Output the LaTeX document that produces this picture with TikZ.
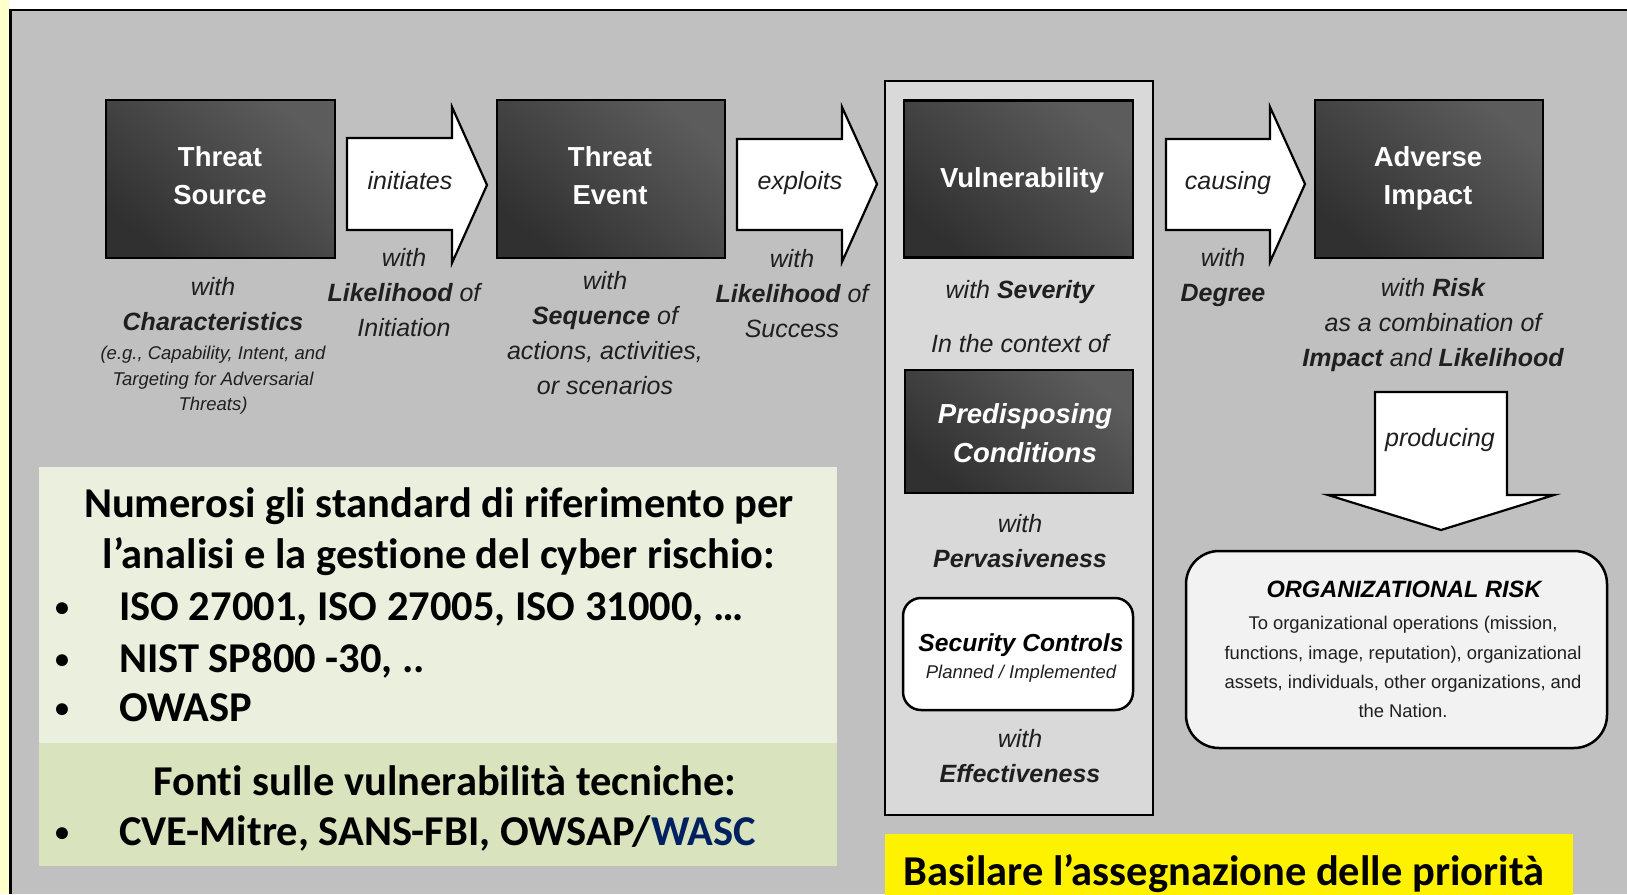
\documentclass[tikz,border=0pt]{standalone}
\usepackage{fontspec}
\setmainfont{Liberation Sans}
\newfontfamily\calfont[Ligatures=NoCommon]{Carlito}
\definecolor{bg}{RGB}{192,192,192}
\definecolor{panelgray}{RGB}{217,217,217}
\definecolor{darkA}{RGB}{92,92,92}
\definecolor{darkB}{RGB}{48,48,48}
\definecolor{greenA}{RGB}{235,240,222}
\definecolor{greenB}{RGB}{217,227,190}
\definecolor{navy}{RGB}{0,32,96}
\definecolor{orgfill}{RGB}{242,242,242}
\definecolor{paleyellow}{RGB}{255,255,204}
\newcommand{\gbullet}{\makebox[64pt][l]{\raisebox{4pt}{\fontsize{28}{28}\selectfont•}}}
\begin{document}
\begin{tikzpicture}[x=1pt,y=-1pt,
  darkbox/.style={draw=black, line width=2.5pt, top color=darkA, bottom color=darkB, shading angle=-40, inner sep=0pt, minimum width=229pt, minimum height=158pt},
  darktext/.style={text=white, font=\bfseries\fontsize{27.5}{38}\selectfont, align=center, inner sep=0pt},
  blockarrow/.style={draw=black, fill=white, line width=2.2pt, line join=miter},
  lbl/.style={font=\itshape\fontsize{25}{35}\selectfont, align=center, text=black!88, inner sep=0pt},
  small/.style={font=\itshape\fontsize{18.5}{25.5}\selectfont, align=center, text=black!88, inner sep=0pt},
  gtext/.style={font=\calfont\bfseries\fontsize{42.5}{51}\selectfont, inner sep=0pt},
  plain/.style={inner sep=0pt, outer sep=0pt},
]
\useasboundingbox (0,0) rectangle (1627,894);
% page background and frame
\fill[white] (0,0) rectangle (1627,894);
\fill[paleyellow] (0,0) rectangle (9,894);
\fill[bg] (10,10) rectangle (1627,894);
\draw[line width=2.8pt] (10.5,894) -- (10.5,10) -- (1627,10);

% vulnerability panel
\node[plain, draw=black, line width=2.5pt, fill=panelgray, minimum width=268pt, minimum height=734pt] (panel) at (1019,448) {};

% dark boxes
\node[darkbox] (ts) at (220.5,179) {};
\node[darkbox, minimum width=228pt] (te) at (611,179) {};
\node[darkbox, minimum height=157pt] (vul) at (1018.5,179) {};
\node[darkbox, minimum width=228pt] (ai) at (1429,179) {};
\node[darkbox, minimum width=228pt, minimum height=123pt] (pc) at (1019,431.5) {};

\node[darktext] (tst) at (220,178) {\strut Threat\\\strut Source};
\node[darktext] (tet) at (610,178) {\strut Threat\\\strut Event};
\node[darktext] (vult) at (1022,180) {\strut Vulnerability};
\node[darktext] (ait) at (1428,178) {\strut Adverse\\\strut Impact};
\node[darktext, font=\bfseries\itshape\fontsize{27.5}{39}\selectfont] (pct) at (1025,435) {\strut Predisposing\\\strut Conditions};

% block arrows
\draw[blockarrow] (347,138) -- (452,138) -- (452,107) -- (487,185) -- (452,263) -- (452,230) -- (347,230) -- cycle;
\draw[blockarrow] (737,139) -- (842,139) -- (842,107) -- (877,184) -- (842,262) -- (842,230) -- (737,230) -- cycle;
\draw[blockarrow] (1166,139) -- (1270,139) -- (1270,107) -- (1305,184) -- (1270,262) -- (1270,230) -- (1166,230) -- cycle;
\draw[blockarrow] (1375,392) -- (1507,392) -- (1507,495) -- (1554,495) -- (1441,530) -- (1328,495) -- (1375,495) -- cycle;

\node[lbl] (init) at (410,182) {\strut initiates};
\node[lbl] (expl) at (800,182) {\strut exploits};
\node[lbl] (caus) at (1228,182) {\strut causing};
\node[lbl] (prod) at (1440,439) {\strut producing};

% labels
\node[lbl] (tswith) at (213,306) {\strut with\\\strut\textbf{Characteristics}};
\node[small] (tssmall) at (213,380) {\strut(e.g., Capability, Intent, and\\\strut Targeting for Adversarial\\\strut Threats)};
\node[lbl] (initlbl) at (404,294) {\strut with\\\strut\textbf{Likelihood} of\\\strut Initiation};
\node[lbl] (telbl) at (605,335) {\strut with\\\strut\textbf{Sequence} of\\\strut actions, activities,\\\strut or scenarios};
\node[lbl] (explbl) at (792,295) {\strut with\\\strut\textbf{Likelihood} of\\\strut Success};
\node[lbl] (sev) at (1020,291) {\strut with \textbf{Severity}};
\node[lbl] (ctx) at (1020,345) {\strut In the context of};
\node[lbl] (perv) at (1020,543) {\strut with\\\strut\textbf{Pervasiveness}};
\node[lbl] (eff) at (1020,758) {\strut with\\\strut\textbf{Effectiveness}};
\node[lbl] (deg) at (1223,277) {\strut with\\\strut\textbf{Degree}};
\node[lbl] (risk) at (1433,324) {\strut with \textbf{Risk}\\\strut as a combination of\\\strut\textbf{Impact} and \textbf{Likelihood}};

% security controls
\node[plain, draw=black, line width=2.5pt, fill=white, rounded corners=18pt, minimum width=230pt, minimum height=112pt] (sc) at (1018,654) {};
\node[plain, font=\bfseries\itshape\fontsize{24.6}{30}\selectfont] (sct) at (1021,645) {\strut Security Controls};
\node[plain, font=\itshape\fontsize{18.5}{22}\selectfont, text=black!88] (scs) at (1021,674) {\strut Planned / Implemented};

% organizational risk
\node[plain, draw=black, line width=2.5pt, fill=orgfill, rounded corners=33pt, minimum width=421pt, minimum height=197pt] (org) at (1396.5,649.5) {};
\node[plain, font=\bfseries\itshape\fontsize{23.6}{28}\selectfont] (orgt) at (1404,592) {\strut ORGANIZATIONAL RISK};
\node[plain, font=\fontsize{18.4}{29.3}\selectfont, align=center, text=black!88] (orgb) at (1403,668) {\strut To organizational operations (mission,\\\strut functions, image, reputation), organizational\\\strut assets, individuals, other organizations, and\\\strut the Nation.};

% green boxes
\node[plain, fill=greenA, minimum width=798pt, minimum height=276pt] (g1) at (438,605) {};
\node[plain, fill=greenB, minimum width=798pt, minimum height=123pt] (g2) at (438,804.5) {};
\node[gtext, align=center] (gt1) at (439,533) {\strut Numerosi gli standard di riferimento per\\\strut l’analisi e la gestione del cyber rischio:};
\node[gtext, anchor=west] (i1) at (55,610) {\strut\gbullet ISO 27001, ISO 27005, ISO 31000, …};
\node[gtext, anchor=west] (i2) at (55,662) {\strut\gbullet NIST SP800 -30, ..};
\node[gtext, anchor=west] (i3) at (55,711) {\strut\gbullet OWASP};
\node[gtext] (gt2) at (445,785) {\strut Fonti sulle vulnerabilità tecniche:};
\node[gtext, anchor=west] (i4) at (55,835) {\strut\gbullet CVE-Mitre, SANS-FBI, OWSAP/\textcolor{navy}{WASC}};

% yellow box
\node[plain, fill=yellow, minimum width=688pt, minimum height=62pt] (yb) at (1229,865) {};
\node[gtext] (ybt) at (1224,875) {\strut Basilare l’assegnazione delle priorità};
\end{tikzpicture}
\end{document}
